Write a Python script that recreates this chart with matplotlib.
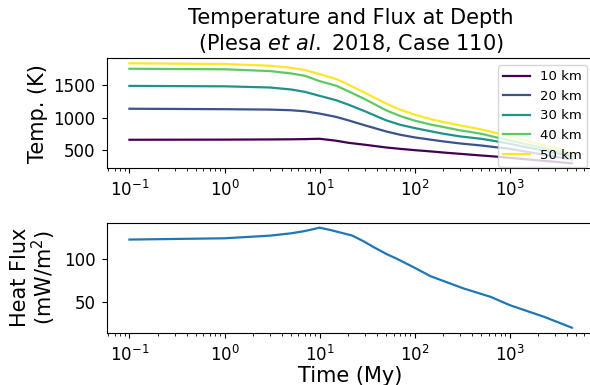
import numpy as np
import matplotlib
matplotlib.use('Agg')
import matplotlib.pyplot as plt

# temperature at depth (K)
time_T = [0.1, 1, 3, 5, 7, 10, 15, 20, 30, 50, 70, 100, 150, 200, 300, 500, 700, 1000, 4500]
T_10 = [663, 665, 668, 670, 673, 678, 648, 617, 587, 546, 525, 505, 485, 469, 449, 424, 408, 388, 305]
T_20 = [1135, 1128, 1122, 1112, 1096, 1061, 1010, 959, 882, 790, 740, 699, 663, 638, 607, 576, 551, 525, 362]
T_30 = [1482, 1476, 1458, 1428, 1392, 1331, 1264, 1198, 1096, 959, 892, 841, 790, 755, 714, 678, 643, 602, 410]
T_40 = [1743, 1735, 1708, 1672, 1636, 1555, 1484, 1402, 1280, 1112, 1025, 954, 892, 857, 806, 755, 704, 653, 440]
T_50 = [1826, 1815, 1789, 1759, 1723, 1662, 1586, 1504, 1377, 1214, 1122, 1045, 974, 933, 882, 821, 770, 714, 470]
depth_labels = ['10 km', '20 km', '30 km', '40 km', '50 km']

# surface heat flux (mW/m^2)
time_F = [0.1, 1, 3, 5, 7, 10, 13, 22, 29, 37, 50, 65, 100, 146, 328, 630, 1000, 2290, 4500]
flux = [123.3, 124.8, 127.9, 130.6, 133.3, 137.2, 134.5, 128, 121.3, 114.5, 106.6, 100.8,
        90.3, 80.5, 66, 56.2, 46.5, 32.9, 20.1]

fig = plt.figure(figsize=(5.9, 3.85), dpi=100)
left = 107.3 / 590
width = (594 - 107.3) / 590
ax1 = fig.add_axes([left, 1 - 168.3 / 385, width, 110 / 385])
ax2 = fig.add_axes([left, 1 - 332.7 / 385, width, 110 / 385])

colors = plt.cm.viridis(np.linspace(0, 1, 5))
for T, c, lab in zip([T_10, T_20, T_30, T_40, T_50], colors, depth_labels):
    ax1.plot(time_T, T, color=c, lw=1.6, label=lab)
ax1.set_xscale('log')
ax1.set_ylabel('Temp. (K)', fontsize=15)
ax1.set_title('Temperature and Flux at Depth\n(Plesa $\\it{et\\ al.}$ 2018, Case 110)',
              fontsize=15)
ax1.legend(loc='upper right', fontsize=9.5)
ax1.tick_params(labelsize=12, pad=5)

ax2.plot(time_F, flux, color='C0', lw=1.6)
ax2.set_xscale('log')
ax2.set_ylabel('Heat Flux\n(mW/m$^2$)', fontsize=15, linespacing=1.0)
ax2.set_xlabel('Time (My)', fontsize=15, labelpad=1)
ax2.tick_params(labelsize=12, pad=5)

fig.savefig('out.png', dpi=100)
